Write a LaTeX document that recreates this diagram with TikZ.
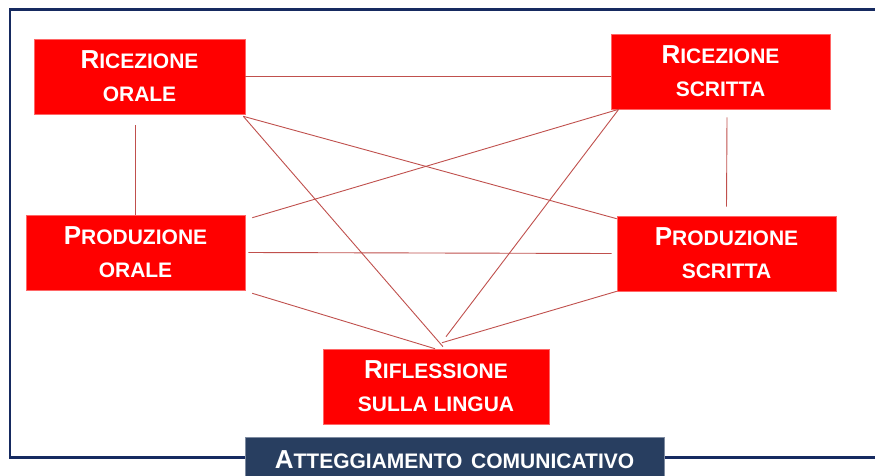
\documentclass[tikz,border=0pt]{standalone}
\usepackage{fontspec}
\setmainfont{Liberation Sans}
\definecolor{boxred}{RGB}{255,0,0}
\definecolor{linkred}{RGB}{192,80,77}
\definecolor{framenavy}{RGB}{22,42,96}
\definecolor{attblue}{RGB}{40,62,96}
\newcommand{\bigsc}[2]{{\fontsize{26}{33}\selectfont #1}#2}
\tikzset{
  redbox/.style={rectangle, fill=boxred, draw=boxred!60!white, line width=0.6pt,
    text=white, font=\bfseries\fontsize{21}{33}\selectfont, align=center,
    minimum height=75, inner sep=0pt},
  attbox/.style={rectangle, fill=attblue, draw=attblue!60!white, line width=0.6pt,
    text=white, font=\bfseries\fontsize{21}{26}\selectfont, minimum width=419,
    minimum height=46, inner sep=0pt},
  link/.style={draw=linkred, line width=0.9pt},
}
\begin{document}
\begin{tikzpicture}[x=1pt,y=-1pt]
\useasboundingbox (0,0) rectangle (875,475);
\fill[white] (0,0) rectangle (875,475);
% frame
\draw[framenavy, line width=2.2pt] (875,9.5) -- (10,9.5) -- (10,457.5) -- (875,457.5);
% nodes
\node[redbox, minimum width=211] (ro) at (139.5,76.5) {\bigsc{R}{ICEZIONE}\\ORALE};
\node[redbox, minimum width=219] (rs) at (720.5,71.5) {\bigsc{R}{ICEZIONE}\\SCRITTA};
\node[redbox, minimum width=219] (po) at (135.5,252.5) {\bigsc{P}{RODUZIONE}\\ORALE};
\node[redbox, minimum width=219] (ps) at (726.5,253.5) {\bigsc{P}{RODUZIONE}\\SCRITTA};
\node[redbox, minimum width=226] (rl) at (436,386.5) {\bigsc{R}{IFLESSIONE}\\SULLA LINGUA};
\node[attbox] (at) at (454.5,460) {\bigsc{A}{TTEGGIAMENTO}\hspace{3pt} COMUNICATIVO};
% connectors
\draw[link] (ro.east) -- (ro.east -| rs.west);
\draw[link] ([shift={(-4,11)}]ro.south) -- (po.north);
\draw[link] ([shift={(6.5,8)}]rs.south) -- ([shift={(0,-9)}]ps.north);
\draw[link] ([shift={(-2,2)}]ro.south east) -- ([shift={(0,3)}]ps.north west);
\draw[link] ([shift={(-2,2)}]ro.south east) -- ([shift={(7,-2)}]rl.north);
\draw[link] ([shift={(8,0)}]rs.south west) -- ([shift={(7,3)}]po.north east);
\draw[link] ([shift={(8,0)}]rs.south west) -- ([shift={(10,-12)}]rl.north);
\draw[link] ([shift={(3,0)}]po.east) -- ([shift={(-5,0)}]ps.west);
\draw[link] ([shift={(7,3)}]po.south east) -- ([shift={(-1,0)}]rl.north);
\draw[link] (ps.south west) -- ([shift={(6,-6)}]rl.north);
\end{tikzpicture}
\end{document}
